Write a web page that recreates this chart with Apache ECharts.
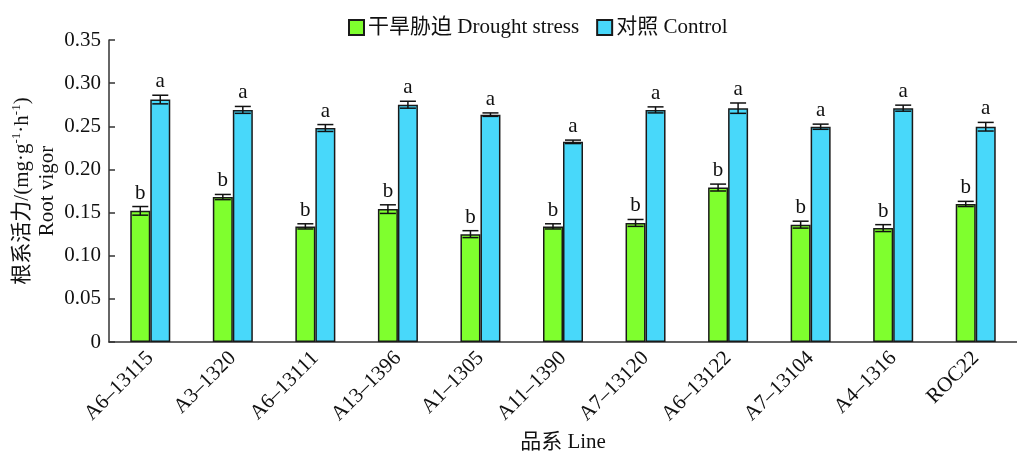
<!DOCTYPE html>
<html>
<head>
<meta charset="utf-8">
<script src="https://cdn.jsdelivr.net/npm/echarts@6/dist/echarts.min.js"></script>
<style>html,body{margin:0;padding:0;background:#fff;}#chart{width:1017px;height:455px;}</style>
</head>
<body>
<div id="chart"></div>
<script>
const categories = ['A6–13115','A3–1320','A6–13111','A13–1396','A1–1305','A11–1390','A7–13120','A6–13122','A7–13104','A4–1316','ROC22'];
const droughtValues = [0.152,0.168,0.134,0.154,0.125,0.134,0.138,0.179,0.136,0.132,0.160];
const droughtErrors = [0.005,0.003,0.003,0.005,0.004,0.003,0.004,0.004,0.004,0.004,0.003];
const droughtLetters = ['b','b','b','b','b','b','b','b','b','b','b'];
const controlValues = [0.281,0.269,0.248,0.275,0.2635,0.232,0.269,0.271,0.2495,0.271,0.2495];
const controlErrors = [0.005,0.004,0.004,0.004,0.002,0.002,0.0035,0.006,0.003,0.0035,0.005];
const controlLetters = ['a','a','a','a','a','a','a','a','a','a','a'];
const yTicks = [0,0.05,0.10,0.15,0.20,0.25,0.30,0.35];

const FONT = "'Liberation Serif','Times New Roman','Noto Sans CJK SC',serif";
const FS = 21;
const BAR_W = 20;

function errRender(values, errors, letters, sign){
  return function(params, api){
    const i = params.dataIndex;
    const v = values[i], e = errors[i];
    const c = api.coord([i, v]);
    const x = c[0] + sign * BAR_W / 2;
    const top = api.coord([i, v + e])[1];
    const bot = api.coord([i, v - e])[1];
    const hw = 8;
    const st = {stroke:'#111', lineWidth:1.5};
    return {type:'group', children:[
      {type:'line', shape:{x1:x,y1:top,x2:x,y2:bot}, style:st},
      {type:'line', shape:{x1:x-hw,y1:top,x2:x+hw,y2:top}, style:st},
      {type:'line', shape:{x1:x-hw,y1:bot,x2:x+hw,y2:bot}, style:st},
      {type:'text', style:{text:letters[i], x:x, y:top-3, align:'center', verticalAlign:'bottom', font:FS+"px "+FONT, fill:'#111'}}
    ]};
  };
}

const chart = echarts.init(document.getElementById('chart'), null, {renderer:'canvas'});
chart.setOption({
  animation:false,
  backgroundColor:'#fff',
  textStyle:{fontFamily:FONT},
  legend:{
    data:['干旱胁迫 Drought stress','对照 Control'],
    left:343, top:12, icon:'rect',
    itemWidth:15, itemHeight:15, itemGap:17,
    textStyle:{fontFamily:FONT, fontSize:FS, color:'#111', padding:[0,0,0,-1]}
  },
  grid:{left:109, right:0, top:40, bottom:113, containLabel:false, outerBoundsMode:'none'},
  xAxis:{
    type:'category', data:categories,
    name:'品系 Line', nameLocation:'middle', nameGap:90, nameMoveOverlap:false,
    nameTextStyle:{fontFamily:FONT, fontSize:FS, color:'#111'},
    axisLine:{lineStyle:{color:'#333', width:1.5}},
    axisTick:{show:false},
    axisLabel:{interval:0, rotate:45, fontFamily:FONT, fontSize:FS, color:'#111', margin:13}
  },
  yAxis:{
    type:'value', min:0, max:0.35, interval:0.05,
    name:'{t|根系活力/(mg·g}{s|-1}{t|·h}{s|-1}{t|)}\n{t|Root vigor}',
    nameLocation:'middle', nameGap:49, nameRotate:90, nameMoveOverlap:false,
    nameTextStyle:{fontFamily:FONT, fontSize:FS, color:'#111', lineHeight:25,
      rich:{t:{fontFamily:FONT, fontSize:FS, color:'#111', lineHeight:25},
            s:{fontFamily:FONT, fontSize:13, color:'#111', verticalAlign:'top', lineHeight:25, padding:[0,0,10,0]}}},
    axisLine:{show:true, lineStyle:{color:'#333', width:1.5}},
    axisTick:{show:true, inside:true, length:6, lineStyle:{color:'#333', width:1.5}},
    splitLine:{show:false},
    axisLabel:{fontFamily:FONT, fontSize:FS, color:'#111', margin:8,
      formatter:function(v){ return v===0 ? '0' : v.toFixed(2); }}
  },
  series:[
    {name:'干旱胁迫 Drought stress', type:'bar', data:droughtValues, barWidth:BAR_W, barGap:'0%',
      itemStyle:{color:'#7FFF2E', borderColor:'#1a1a1a', borderWidth:1.5}},
    {name:'对照 Control', type:'bar', data:controlValues, barWidth:BAR_W, barGap:'0%',
      itemStyle:{color:'#48D8FA', borderColor:'#1a1a1a', borderWidth:1.5}},
    {type:'custom', renderItem:errRender(droughtValues, droughtErrors, droughtLetters, -1),
      data:droughtValues.map((v,i)=>[i,v]), encode:{x:0,y:1}, z:5, silent:true},
    {type:'custom', renderItem:errRender(controlValues, controlErrors, controlLetters, 1),
      data:controlValues.map((v,i)=>[i,v]), encode:{x:0,y:1}, z:5, silent:true}
  ]
});
</script>
</body>
</html>
